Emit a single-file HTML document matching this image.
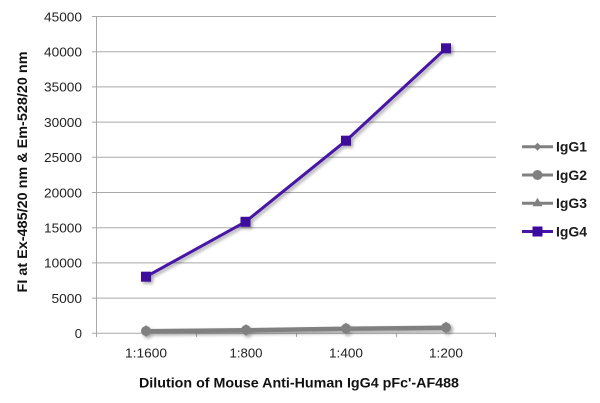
<!DOCTYPE html>
<html>
<head>
<meta charset="utf-8">
<style>
html,body{margin:0;padding:0;background:#fff;}
svg{display:block;}
text{font-family:"Liberation Sans",Arial,sans-serif;}
</style>
</head>
<body>
<svg width="600" height="403" viewBox="0 0 600 403" xmlns="http://www.w3.org/2000/svg">
<defs>
<filter id="sh" x="-20%" y="-20%" width="140%" height="140%">
<feDropShadow dx="2" dy="2" stdDeviation="1.5" flood-color="#000" flood-opacity="0.35"/>
</filter>
</defs>
<rect width="600" height="403" fill="#fff"/>
<!-- gridlines -->
<g stroke="#a8a8a8" stroke-width="1">
<line x1="92" y1="16.5" x2="496" y2="16.5"/>
<line x1="92" y1="51.7" x2="496" y2="51.7"/>
<line x1="92" y1="86.9" x2="496" y2="86.9"/>
<line x1="92" y1="122.1" x2="496" y2="122.1"/>
<line x1="92" y1="157.3" x2="496" y2="157.3"/>
<line x1="92" y1="192.5" x2="496" y2="192.5"/>
<line x1="92" y1="227.7" x2="496" y2="227.7"/>
<line x1="92" y1="262.9" x2="496" y2="262.9"/>
<line x1="92" y1="298.1" x2="496" y2="298.1"/>
<line x1="92" y1="333.3" x2="496" y2="333.3"/>
<line x1="96.5" y1="16.5" x2="96.5" y2="333.3"/>
<line x1="96.5" y1="333" x2="96.5" y2="337"/>
<line x1="196.5" y1="333" x2="196.5" y2="337"/>
<line x1="296.5" y1="333" x2="296.5" y2="337"/>
<line x1="396.5" y1="333" x2="396.5" y2="337"/>
<line x1="495.5" y1="333" x2="495.5" y2="337"/>
</g>
<!-- y tick labels -->
<g font-size="13" fill="#222" text-anchor="end">
<text x="82" y="21.3" textLength="38" lengthAdjust="spacingAndGlyphs">45000</text>
<text x="82" y="56.5" textLength="38" lengthAdjust="spacingAndGlyphs">40000</text>
<text x="82" y="91.7" textLength="38" lengthAdjust="spacingAndGlyphs">35000</text>
<text x="82" y="126.9" textLength="38" lengthAdjust="spacingAndGlyphs">30000</text>
<text x="82" y="162.1" textLength="38" lengthAdjust="spacingAndGlyphs">25000</text>
<text x="82" y="197.3" textLength="38" lengthAdjust="spacingAndGlyphs">20000</text>
<text x="82" y="232.5" textLength="38" lengthAdjust="spacingAndGlyphs">15000</text>
<text x="82" y="267.7" textLength="38" lengthAdjust="spacingAndGlyphs">10000</text>
<text x="82" y="302.9" textLength="30.5" lengthAdjust="spacingAndGlyphs">5000</text>
<text x="82" y="338.1">0</text>
</g>
<!-- x tick labels -->
<g font-size="13" fill="#222" text-anchor="middle">
<text x="146" y="357.5" textLength="42" lengthAdjust="spacingAndGlyphs">1:1600</text>
<text x="246" y="357.5" textLength="33" lengthAdjust="spacingAndGlyphs">1:800</text>
<text x="346" y="357.5" textLength="34" lengthAdjust="spacingAndGlyphs">1:400</text>
<text x="446" y="357.5" textLength="34" lengthAdjust="spacingAndGlyphs">1:200</text>
</g>
<!-- axis titles -->
<text x="299" y="387.5" font-size="14" font-weight="bold" fill="#111" text-anchor="middle" textLength="320" lengthAdjust="spacingAndGlyphs">Dilution of Mouse Anti-Human IgG4 pFc'-AF488</text>
<text transform="translate(27,172) rotate(-90)" x="0" y="0" font-size="14" font-weight="bold" fill="#111" text-anchor="middle" textLength="241" lengthAdjust="spacingAndGlyphs">FI at Ex-485/20 nm &amp; Em-528/20 nm</text>
<!-- gray series -->
<g filter="url(#sh)">
<polyline points="146,332 246,331 346,329.5 446,328.5" fill="none" stroke="#808080" stroke-width="3"/>
<polyline points="146,331 246,330 346,328.5 446,327.5" fill="none" stroke="#808080" stroke-width="3"/>
<polyline points="146,330.5 246,329.5 346,328 446,327" fill="none" stroke="#808080" stroke-width="3"/>
<g fill="#808080">
<circle cx="146" cy="331" r="5"/>
<circle cx="246" cy="330" r="5"/>
<circle cx="346" cy="328.5" r="5"/>
<circle cx="446" cy="327.5" r="5"/>
<polygon points="146,325 151,331 146,337 141,331"/>
<polygon points="246,324 251,330 246,336 241,330"/>
<polygon points="346,322.5 351,328.5 346,334.5 341,328.5"/>
<polygon points="446,321.5 451,327.5 446,333.5 441,327.5"/>
</g>
</g>
<!-- IgG4 -->
<g filter="url(#sh)">
<polyline points="146,276.7 245.5,221.8 346,140.7 446,48.3" fill="none" stroke="#4614a6" stroke-width="3"/>
<g fill="#3c0a9c">
<rect x="141" y="271.7" width="10" height="10"/>
<rect x="240.5" y="216.8" width="10" height="10"/>
<rect x="341" y="135.7" width="10" height="10"/>
<rect x="441" y="43.3" width="10" height="10"/>
</g>
</g>
<!-- legend -->
<g>
<line x1="522" y1="146.7" x2="553" y2="146.7" stroke="#808080" stroke-width="3"/>
<polygon points="537.5,142.7 541.5,146.7 537.5,150.7 533.5,146.7" fill="#808080"/>
<line x1="522" y1="175" x2="553" y2="175" stroke="#808080" stroke-width="3"/>
<circle cx="537.5" cy="175" r="5" fill="#808080"/>
<line x1="522" y1="203.3" x2="553" y2="203.3" stroke="#808080" stroke-width="3"/>
<polygon points="537.5,197.8 542.5,206.3 532.5,206.3" fill="#808080"/>
<line x1="522" y1="231.5" x2="553" y2="231.5" stroke="#4614a6" stroke-width="3"/>
<rect x="532.5" y="226.5" width="10" height="10" fill="#3c0a9c"/>
</g>
<g font-size="14" font-weight="bold" fill="#1a1a1a">
<text x="556" y="151.5" textLength="31" lengthAdjust="spacingAndGlyphs">IgG1</text>
<text x="556" y="179.8" textLength="31" lengthAdjust="spacingAndGlyphs">IgG2</text>
<text x="556" y="208.1" textLength="31" lengthAdjust="spacingAndGlyphs">IgG3</text>
<text x="556" y="236.3" textLength="31" lengthAdjust="spacingAndGlyphs">IgG4</text>
</g>
</svg>
</body>
</html>
